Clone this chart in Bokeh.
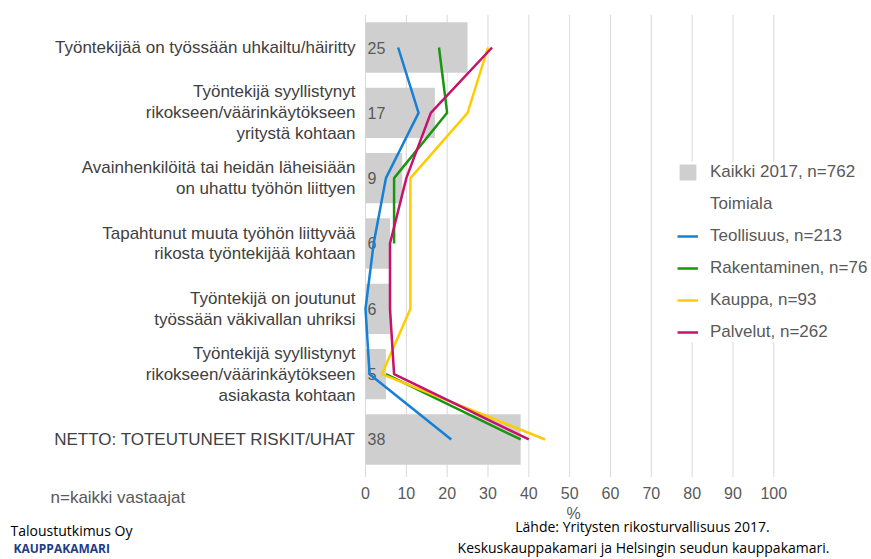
from bokeh.plotting import figure
from bokeh.models import Range1d, Legend, LegendItem
from bokeh.core.properties import value
from bokeh.embed import file_html
from bokeh.resources import INLINE

nan = float("nan")

categories = [
    "Työntekijää on työssään uhkailtu/häiritty",
    "Työntekijä syyllistynyt\nrikokseen/väärinkäytökseen\nyritystä kohtaan",
    "Avainhenkilöitä tai heidän läheisiään\non uhattu työhön liittyen",
    "Tapahtunut muuta työhön liittyvää\nrikosta työntekijää kohtaan",
    "Työntekijä on joutunut\ntyössään väkivallan uhriksi",
    "Työntekijä syyllistynyt\nrikokseen/väärinkäytökseen\nasiakasta kohtaan",
    "NETTO: TOTEUTUNEET RISKIT/UHAT",
]
kaikki = [25, 17, 9, 6, 6, 5, 38]
teollisuus = [8, 13, 5, 2, 0, 1, 21]
rakentaminen = [18, 20, 7, 7, nan, 5, 38]
kauppa = [30, 25, 11, 11, 11, 4, 44]
palvelut = [31, 16, 10, 6, 6, 7, 40]
x_ticks = [0, 10, 20, 30, 40, 50, 60, 70, 80, 90, 100]

series = [
    ("Teollisuus, n=213", teollisuus, "#1580d8"),
    ("Rakentaminen, n=76", rakentaminen, "#18960f"),
    ("Kauppa, n=93", kauppa, "#ffcc00"),
    ("Palvelut, n=262", palvelut, "#c8106c"),
]

FONT = "Liberation Sans"
SRC_FONT = "Open Sans"
W, H = 871, 559

# pixel layout of the frame (page pixels) -> data coordinates
X0_PX, PX_PER_X = 365.0, 4.083       # x = 0 at 365 px
ROW0_PX, PX_PER_ROW = 47.0, 65.33    # first category row centre


def X(px):
    return (px - X0_PX) / PX_PER_X


def Y(py):
    return (ROW0_PX - py) / PX_PER_ROW


rows = [-i for i in range(len(categories))]   # one unit per category, top to bottom

p = figure(width=W, height=H, output_backend="svg", toolbar_location=None, title=None,
           x_axis_type=None, y_axis_type=None,
           x_range=Range1d(X(0), X(W)), y_range=Range1d(Y(H), Y(0)),
           min_border=0)
p.min_border_left = p.min_border_right = p.min_border_top = p.min_border_bottom = 0
p.outline_line_color = None
p.background_fill_color = "white"
p.grid.visible = False

# vertical grid lines (with their short tick marks below the plot area)
top_edge = rows[0] + 0.5
bottom_edge = rows[-1] - 0.5
p.segment(x0=x_ticks, x1=x_ticks, y0=[top_edge] * len(x_ticks),
          y1=[bottom_edge + Y(ROW0_PX + 5)] * len(x_ticks),
          line_color="#d9d9d9", line_width=1)

bars = p.hbar(y=rows, left=0, right=kaikki, height=0.77, fill_color="#cfcfcf", line_color=None)
p.text(x=[0] * len(rows), y=rows, text=[str(v) for v in kaikki],
       x_offset=2, text_align="left", text_baseline="middle",
       text_font=value(FONT), text_font_size="16px", text_color="#595959")

# category labels
p.text(x=[0] * len(rows), y=rows, text=categories, x_offset=-10,
       text_align="right", text_baseline="middle", text_line_height=1.1,
       text_font=value(FONT), text_font_size="17px", text_color="#404040")

# x tick labels
p.text(x=x_ticks, y=[Y(492)] * len(x_ticks), text=[str(t) for t in x_ticks],
       text_align="center", text_baseline="middle",
       text_font=value(FONT), text_font_size="16px", text_color="#595959")

line_renderers = []
for name, vals, col in series:
    r = p.line(x=vals, y=rows, line_color=col, line_width=2.5)
    line_renderers.append((name, r))

header = p.line(x=[], y=[], line_alpha=0)

items = [LegendItem(label="Kaikki 2017, n=762", renderers=[bars]),
         LegendItem(label="Toimiala", renderers=[header])]
items += [LegendItem(label=n, renderers=[r]) for n, r in line_renderers]
legend = Legend(items=items, location=(677, 217), padding=8, spacing=12,
                glyph_width=21, glyph_height=20, label_standoff=12,
                label_text_font=FONT, label_text_font_size="17px", label_text_color="#595959",
                background_fill_color="white", background_fill_alpha=1.0,
                border_line_color=None, margin=0)
p.add_layout(legend, "center")


def note(text, px, py, align="left", font=FONT, size="17px", color="#595959", style="normal"):
    p.text(x=[X(px)], y=[Y(py)], text=[text], text_align=align, text_baseline="middle",
           text_font=value(font), text_font_size=size, text_color=color,
           text_font_style=style)


note("%", 573, 513, align="center", size="16px")
note("n=kaikki vastaajat", 50, 497)
note("Taloustutkimus Oy", 10, 530, font=SRC_FONT, size="14px", color="#000000")
note("KAUPPAKAMARI", 13, 548, font=SRC_FONT, size="12px", color="#1d3c85", style="bold")
note("Lähde: Yritysten rikosturvallisuus 2017.", 642, 526, align="center",
     font=SRC_FONT, size="14px", color="#000000")
note("Keskuskauppakamari ja Helsingin seudun kauppakamari.", 643, 547, align="center",
     font=SRC_FONT, size="14px", color="#000000")

open("out.html", "w").write(file_html(p, INLINE))
